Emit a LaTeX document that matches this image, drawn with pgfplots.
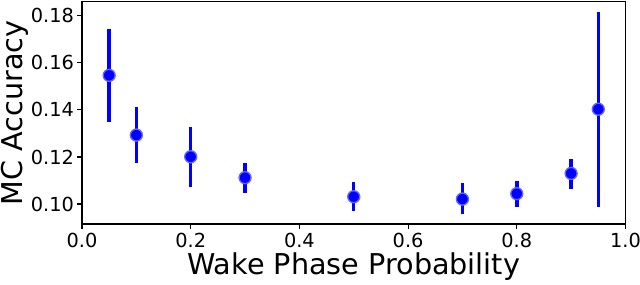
\documentclass[border=0pt]{standalone}
\usepackage{pgfplots}
\pgfplotsset{compat=1.18}
\usepackage{fontspec}
\setmainfont{DejaVu Sans}
\definecolor{mblue}{RGB}{0,0,255}
\begin{document}
\begin{tikzpicture}
\begin{axis}[
  name=ax,
  scale only axis,
  width=407.6pt, height=166.7pt,
  xmin=0, xmax=1.0, ymin=0.0915, ymax=0.186,
  xtick={0,0.2,0.4,0.6,0.8,1.0},
  ytick={0.10,0.12,0.14,0.16,0.18},
  xticklabel style={/pgf/number format/.cd,fixed,fixed zerofill,precision=1},
  yticklabel style={xshift=1pt,/pgf/number format/.cd,fixed,fixed zerofill,precision=2},
  /pgf/number format/assume math mode=true,
  tick label style={font=\fontsize{14.5}{16}\selectfont},
  label style={font=\fontsize{21.5}{24}\selectfont},
  xlabel={Wake Phase Probability},
  ylabel={MC Accuracy},
  tick align=outside,
  tick pos=left,
  major tick length=3.5pt,
  axis line style={line width=0.8pt},
  every tick/.style={black, line width=0.8pt},
  xlabel style={yshift=3pt},
  ylabel style={yshift=-5pt},
]
\addplot+[
  only marks, color=mblue, line width=2.6pt,
  mark=*, mark size=4.5pt,
  mark options={fill=mblue, draw=mblue!60, line width=1pt},
  error bars/.cd, y dir=both, y explicit,
  error bar style={line width=2.6pt, mblue},
  error mark=none,
] table[x=x, y=y, y error plus=ep, y error minus=em] {
x     y       ep      em
0.05  0.1547  0.0196  0.0198
0.10  0.1293  0.0118  0.0118
0.20  0.1201  0.0127  0.0130
0.30  0.1112  0.0063  0.0064
0.50  0.1031  0.0064  0.0061
0.70  0.1021  0.0067  0.0065
0.80  0.1044  0.0054  0.0057
0.90  0.1130  0.0062  0.0066
0.95  0.1403  0.0414  0.0414
};
\end{axis}
\pgfresetboundingbox
\path[use as bounding box] ([xshift=-61.5pt,yshift=-45pt]ax.south west) rectangle ([xshift=10.9pt,yshift=1.3pt]ax.north east);
\end{tikzpicture}
\end{document}
